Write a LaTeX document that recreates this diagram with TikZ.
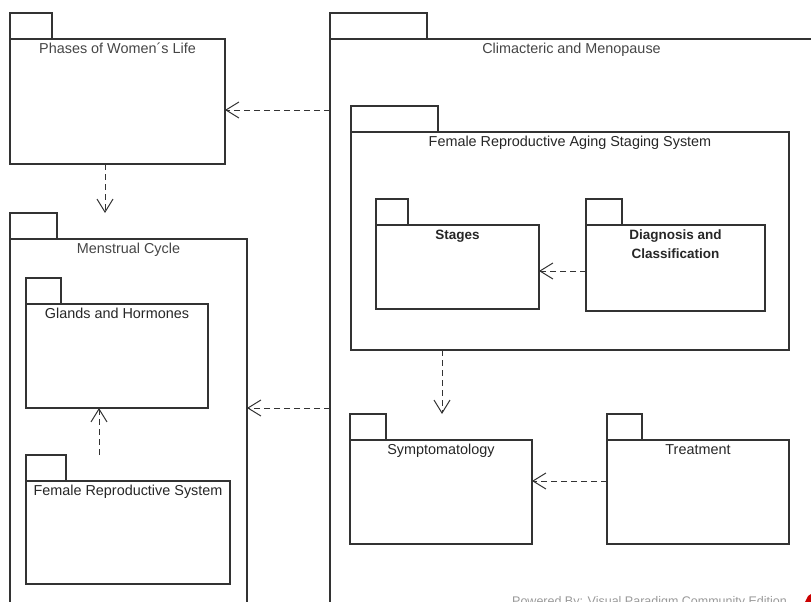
\documentclass[tikz,border=0pt]{standalone}
\usepackage{fontspec}
\setmainfont{Liberation Sans}
\usetikzlibrary{arrows.meta}
\usetikzlibrary{positioning}
\definecolor{mline}{rgb}{0.2, 0.2, 0.2}
\definecolor{mtext}{rgb}{0.27, 0.27, 0.27}
\tikzset{pkg/.style = {draw=mline, line width=1.3pt, anchor=north west,
                       inner sep=0, outer sep=0}}
\tikzset{pkgtab/.style = {draw=mline, line width=1.3pt, minimum height=26pt,
                          inner sep=0, outer sep=0}}
\tikzset{pkgtitle/.style = {inner sep=0, align=center, text=black!85,
                            font=\fontsize{14.4}{19}\selectfont}}
\tikzset{dep/.style = {draw=mline, line width=1pt, dash pattern=on 6pt off 4pt,
                       -{Straight Barb[length=13pt, width=16pt]}}}

\begin{document}
\begin{tikzpicture}[x=1pt, y=-1pt]
    \useasboundingbox (0, 0) rectangle (811, 602);
    \clip (0, 0) rectangle (811, 602);

    % left column
    \node [pkg, minimum width=215pt, minimum height=125pt] (phases) at (10, 39) {};
    \node [pkgtab, minimum width=42pt, above right=0pt and 0pt of phases.north west] (phasestab) {};
    \node [pkgtitle, text=mtext, below=4pt of phases.north] (phasestitle) {Phases of Women´s Life};

    \node [pkg, minimum width=237pt, minimum height=390pt] (menstrual) at (10, 239) {};
    \node [pkgtab, minimum width=47pt, above right=0pt and 0pt of menstrual.north west] (menstrualtab) {};
    \node [pkgtitle, text=mtext, below=4pt of menstrual.north] (menstrualtitle) {Menstrual Cycle};

    \node [pkg, minimum width=182pt, minimum height=104pt] (glands) at (26, 304) {};
    \node [pkgtab, minimum width=35pt, above right=0pt and 0pt of glands.north west] (glandstab) {};
    \node [pkgtitle, below=4pt of glands.north] (glandstitle) {Glands and Hormones};

    \node [pkg, minimum width=204pt, minimum height=103pt] (frs) at (26, 481) {};
    \node [pkgtab, minimum width=40pt, above right=0pt and 0pt of frs.north west] (frstab) {};
    \node [pkgtitle, below=4pt of frs.north] (frstitle) {Female Reproductive System};

    % right column
    \node [pkg, minimum width=483pt, minimum height=590pt] (clim) at (330, 39) {};
    \node [pkgtab, minimum width=97pt, above right=0pt and 0pt of clim.north west] (climtab) {};
    \node [pkgtitle, text=mtext, below=4pt of clim.north] (climtitle) {Climacteric and Menopause};

    \node [pkg, minimum width=438pt, minimum height=218pt] (frass) at (351, 132) {};
    \node [pkgtab, minimum width=87pt, above right=0pt and 0pt of frass.north west] (frasstab) {};
    \node [pkgtitle, below=4pt of frass.north] (frasstitle) {Female Reproductive Aging Staging System};

    \node [pkg, minimum width=163pt, minimum height=84pt] (stages) at (376, 225) {};
    \node [pkgtab, minimum width=32pt, above right=0pt and 0pt of stages.north west] (stagestab) {};
    \node [pkgtitle, font=\fontsize{13.5}{19}\selectfont\bfseries, below=5pt of stages.north] (stagestitle) {Stages};

    \node [pkg, minimum width=179pt, minimum height=86pt] (diag) at (586, 225) {};
    \node [pkgtab, minimum width=36pt, above right=0pt and 0pt of diag.north west] (diagtab) {};
    \node [pkgtitle, font=\fontsize{13.5}{19}\selectfont\bfseries, below=5pt of diag.north] (diagtitle) {Diagnosis and\\Classification};

    \node [pkg, minimum width=182pt, minimum height=104pt] (sympt) at (350, 440) {};
    \node [pkgtab, minimum width=36pt, above right=0pt and 0pt of sympt.north west] (sympttab) {};
    \node [pkgtitle, below=4pt of sympt.north] (sympttitle) {Symptomatology};

    \node [pkg, minimum width=182pt, minimum height=104pt] (treat) at (607, 440) {};
    \node [pkgtab, minimum width=35pt, above right=0pt and 0pt of treat.north west] (treattab) {};
    \node [pkgtitle, below=4pt of treat.north] (treattitle) {Treatment};

    % dependencies
    \draw [dep] (clim.west |- 0,110) -- (phases.east |- 0,110);
    \draw [dep] (phases.south -| 105,0) -- (menstrualtab.north -| 105,0);
    \draw [dep] (clim.west |- 0,408) -- (menstrual.east |- 0,408);
    \draw [dep] (frstab.north -| 99,0) -- (glands.south -| 99,0);
    \draw [dep] (diag.west |- 0,271) -- (stages.east |- 0,271);
    \draw [dep] (frass.south -| 442,0) -- (sympttab.north -| 442,0);
    \draw [dep] (treat.west |- 0,481) -- (sympt.east |- 0,481);

    % watermark
    \node [anchor=north west, inner sep=0, text=black!40, font=\fontsize{12.5}{14}\selectfont] (mark) at (512, 596)
        {Powered By: Visual Paradigm Community Edition};
    \fill [red!80!black] (805, 602) -- (808, 596) -- (811, 594) -- (811, 602) -- cycle;
\end{tikzpicture}
\end{document}
